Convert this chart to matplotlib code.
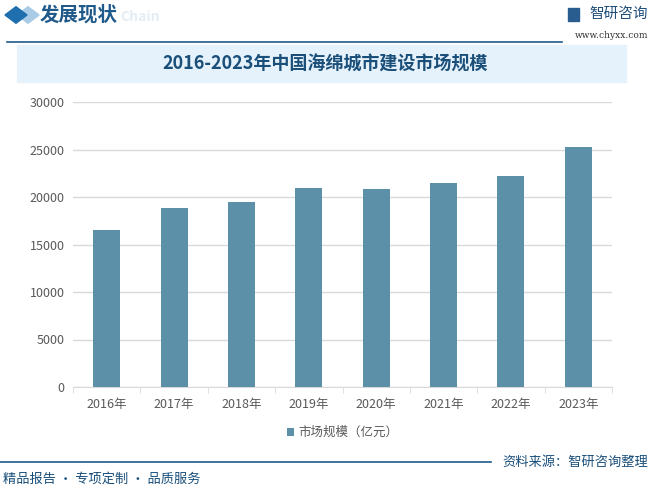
import matplotlib.pyplot as plt
import matplotlib.patches as patches
import numpy as np

plt.rcParams['font.family'] = ['Noto Sans CJK SC', 'DejaVu Sans']

# 数据
years = ['2016年', '2017年', '2018年', '2019年', '2020年', '2021年', '2022年', '2023年']
market_size = [16500, 18800, 19500, 20900, 20800, 21500, 22200, 25300]
y_ticks = [0, 5000, 10000, 15000, 20000, 25000, 30000]

bar_color = '#5b90a8'
dark_blue = '#1a4f7a'

fig = plt.figure(figsize=(6.5, 4.88), dpi=100)

# 页眉
fig.patches.append(patches.RegularPolygon((28/650, 1 - 15/488), 4, radius=0.017,
                                          transform=fig.transFigure, color='#a9cbe6'))
fig.patches.append(patches.RegularPolygon((16/650, 1 - 15/488), 4, radius=0.017,
                                          transform=fig.transFigure, color='#1f6fae'))
fig.text(120/650, 1 - 17/488, 'Chain', fontsize=10, fontweight='bold', color='#e3edf5',
         va='center', ha='left')
fig.text(40/650, 1 - 15/488, '发展现状', fontsize=14, fontweight='bold', color='#1f5a8a',
         va='center', ha='left')
fig.add_artist(plt.Line2D([0.01, 0.865], [1 - 42/488, 1 - 42/488], color='#1f5a8a', lw=1.2))
fig.text(0.997, 1 - 14/488, '智研咨询', fontsize=10.5, color='#1f4e79', ha='right', va='center')
fig.text(0.997, 1 - 35/488, 'www.chyxx.com', fontsize=6.5, color='#333333', ha='right',
         va='center', family='DejaVu Serif')
fig.patches.append(patches.Rectangle((568/650, 1 - 21/488), 11/650, 13/488,
                                     transform=fig.transFigure, color='#2a5d8f'))

# 标题栏
fig.patches.append(patches.Rectangle((17/650, 1 - 82/488), (626 - 17)/650, 37/488,
                                     transform=fig.transFigure, color='#e6f2fb', zorder=0))
fig.text(0.5, 1 - 64/488, '2016-2023年中国海绵城市建设市场规模', fontsize=13,
         fontweight='bold', color=dark_blue, ha='center', va='center')

# 主图
ax = fig.add_axes([73/650, 1 - 387/488, (612 - 73)/650, 285/488])
x = np.arange(len(years))
ax.bar(x, market_size, width=0.4, color=bar_color, zorder=3, label='市场规模（亿元）')
ax.set_ylim(0, 30000)
ax.set_xlim(-0.5, len(years) - 0.5)
ax.set_yticks(y_ticks)
ax.set_yticklabels([str(v) for v in y_ticks])
ax.set_xticks(x)
ax.set_xticklabels(years)
ax.set_xticks(np.arange(-0.5, len(years)), minor=True)
ax.tick_params(axis='x', which='major', length=0, pad=8, labelsize=9, labelcolor='#595959')
ax.tick_params(axis='x', which='minor', length=4, color='#d9d9d9')
ax.tick_params(axis='y', length=0, pad=6, labelsize=9, labelcolor='#595959')
ax.grid(axis='y', color='#d9d9d9', lw=1, zorder=0)
for s in ['top', 'right', 'left']:
    ax.spines[s].set_visible(False)
ax.spines['bottom'].set_color('#d9d9d9')

ax.legend(loc='center', bbox_to_anchor=(0.5, -0.16), frameon=False, fontsize=9,
          handlelength=0.6, handleheight=0.6, handletextpad=0.3, labelcolor='#595959')

# 页脚
fig.add_artist(plt.Line2D([0.0, 0.755], [1 - 462/488, 1 - 462/488], color='#1f5a8a', lw=1.2))
fig.text(0.997, 1 - 462/488, '资料来源：智研咨询整理', fontsize=9.5, color=dark_blue,
         ha='right', va='center')
fig.text(0.005, 1 - 479/488, '精品报告 · 专项定制 · 品质服务', fontsize=9.5, color=dark_blue,
         ha='left', va='center')

fig.savefig('out.png', dpi=100)
